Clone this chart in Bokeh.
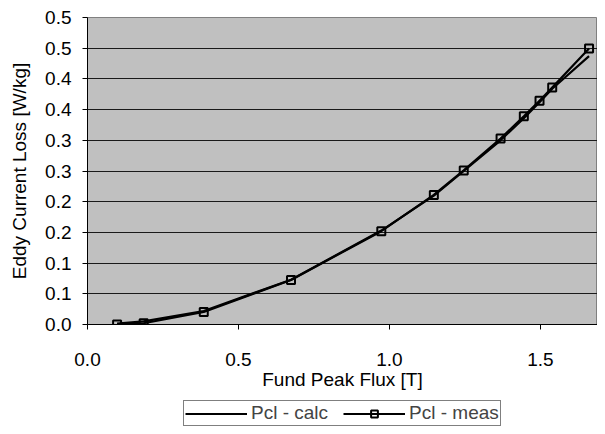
from bokeh.plotting import figure
from bokeh.models import Range1d, FixedTicker, Legend, LegendItem
from bokeh.layouts import column
from bokeh.embed import file_html
from bokeh.resources import INLINE

# Data
flux = [0.098, 0.186, 0.385, 0.674, 0.973, 1.147, 1.246, 1.368, 1.445, 1.497, 1.539, 1.661]
pcl_calc = [0.0015, 0.005, 0.022, 0.073, 0.153, 0.210, 0.250, 0.300, 0.336, 0.362, 0.384, 0.437]
pcl_meas = [0.000, 0.002, 0.0205, 0.0726, 0.152, 0.211, 0.251, 0.303, 0.339, 0.3645, 0.386, 0.4495]

x_tick_values = [0.0, 0.5, 1.0, 1.5]
x_tick_labels = ["0.0", "0.5", "1.0", "1.5"]
y_tick_values = [0.0, 0.05, 0.1, 0.15, 0.2, 0.25, 0.3, 0.35, 0.4, 0.45, 0.5]
y_tick_labels = ["0.0", "0.1", "0.1", "0.2", "0.2", "0.3", "0.3", "0.4", "0.4", "0.5", "0.5"]
series_labels = ["Pcl - calc", "Pcl - meas"]

FONT = "Liberation Sans"
FS = "19px"

p = figure(width=597, height=392, output_backend="svg", toolbar_location=None,
           x_range=Range1d(0, 1.689), y_range=Range1d(0, 0.5),
           min_border_left=87, min_border_right=0, min_border_top=17, min_border_bottom=65)
p.border_fill_color = "white"
p.outline_line_color = "#808080"
p.outline_line_width = 1
p.background_fill_color = "#C0C0C0"

for ax in (p.xaxis[0], p.yaxis[0]):
    ax.axis_line_color = "black"
    ax.axis_line_width = 1
    ax.major_tick_line_color = "black"
    ax.major_tick_out = 5
    ax.major_tick_in = 0
    ax.minor_tick_line_color = None
    ax.major_label_text_font = FONT
    ax.major_label_text_font_size = FS
    ax.major_label_text_color = "black"
    ax.axis_label_text_font = FONT
    ax.axis_label_text_font_size = FS
    ax.axis_label_text_font_style = "normal"
    ax.axis_label_text_color = "black"

p.xaxis.ticker = FixedTicker(ticks=x_tick_values)
p.xaxis.major_label_overrides = {v: l for v, l in zip(x_tick_values, x_tick_labels)}
p.yaxis.ticker = FixedTicker(ticks=y_tick_values)
p.yaxis.major_label_overrides = {v: l for v, l in zip(y_tick_values, y_tick_labels)}
p.xaxis.axis_label = "Fund Peak Flux [T]"
p.yaxis.axis_label = "Eddy Current Loss [W/kg]"
p.xaxis.major_label_standoff = 23
p.xaxis.axis_label_standoff = 0
p.yaxis.major_label_standoff = 11
p.yaxis.axis_label_standoff = 12

p.xgrid.grid_line_color = None
p.ygrid.grid_line_color = "#1a1a1a"
p.ygrid.grid_line_width = 1

line_kw = dict(line_color="black", line_width=2.2, line_join="round")
mark_kw = dict(marker="square", size=8, line_color="black", line_width=2, fill_alpha=0)

p.line(flux, pcl_calc, **line_kw)
p.line(flux, pcl_meas, **line_kw)
p.scatter(flux, pcl_meas, **mark_kw)

# legend strip below the chart (its frame is aligned with the chart's frame)
lg = figure(width=597, height=34, output_backend="svg", toolbar_location=None,
            x_range=Range1d(0, 1), y_range=Range1d(0, 1),
            x_axis_type=None, y_axis_type=None,
            min_border_left=87, min_border_right=0, min_border_top=0, min_border_bottom=0)
lg.outline_line_color = None
lg.xgrid.grid_line_color = None
lg.ygrid.grid_line_color = None
lg.background_fill_color = "white"
# off-range proxies so the legend can draw its sample glyphs
r_calc = lg.line([5, 6], [5, 6], **line_kw)
r_meas_l = lg.line([5, 6], [5, 6], **line_kw)
r_meas_p = lg.scatter([5, 6], [5, 6], **mark_kw)

legend = Legend(items=[LegendItem(label=series_labels[0], renderers=[r_calc]),
                       LegendItem(label=series_labels[1], renderers=[r_meas_l, r_meas_p])],
                orientation="horizontal", location=(96, 0),
                label_text_font=FONT, label_text_font_size=FS,
                glyph_width=62, glyph_height=17, label_standoff=4, spacing=15,
                padding=1, margin=0, label_height=17,
                border_line_color="black", border_line_width=1,
                background_fill_color="white", background_fill_alpha=1)
lg.add_layout(legend, "center")

open("out.html", "w").write(file_html(column(p, lg, spacing=0), INLINE))
